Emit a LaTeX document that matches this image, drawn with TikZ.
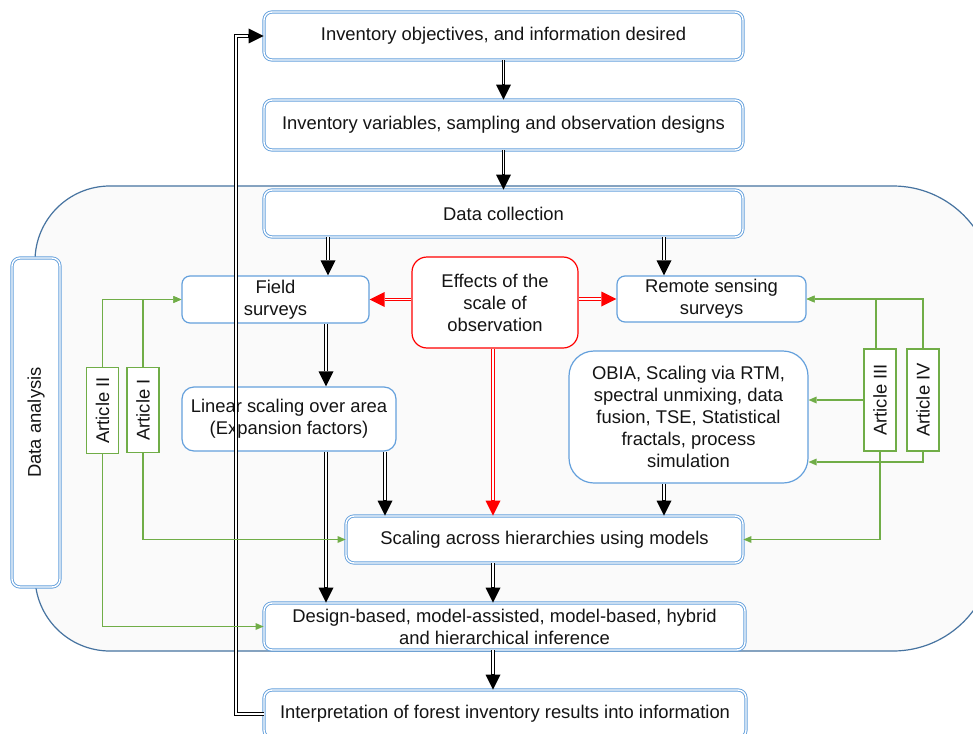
\documentclass[tikz,border=0pt]{standalone}
\usepackage{fontspec}
\setmainfont{Liberation Sans}
\usepackage{graphicx}
\usetikzlibrary{arrows.meta,calc}
\definecolor{boxblue}{RGB}{100,160,220}
\definecolor{contblue}{RGB}{70,115,160}
\definecolor{contfill}{RGB}{250,250,250}
\definecolor{artgreen}{RGB}{112,173,71}
\definecolor{txt}{RGB}{20,20,20}
\definecolor{effred}{RGB}{255,0,0}
\begin{document}
\begin{tikzpicture}[x=1pt,y=-1pt,
  font=\fontsize{18.4}{22}\selectfont, text=txt,
  dbox/.style={draw=boxblue, double=white, double distance=1.4pt, line width=0.9pt,
    rounded corners=8pt, fill=white, inner sep=0pt, align=center},
  sbox/.style={draw=boxblue, line width=1.2pt, rounded corners=#1, fill=white,
    inner sep=0pt, align=center},
  sbox/.default=8pt,
  art/.style={draw=artgreen, line width=1.3pt, fill=white, inner sep=0pt,
    minimum width=32pt},
  dbl/.style={draw=#1, line width=3.4pt,
    -{Triangle[length=15pt,width=15pt,line width=0pt]},
    postaction={draw=white, line width=1.4pt, shorten >=15.5pt, arrows=-}},
  dbl/.default=black,
  grn/.style={draw=artgreen, line width=1.3pt,
    -{Triangle[length=8pt,width=7pt,line width=0pt]}}
]
\useasboundingbox (0,0) rectangle (973,733);
\clip (0,0) rectangle (973,733);
\fill[white] (0,0) rectangle (973,733);

% container
\draw[draw=contblue, fill=contfill, line width=1.2pt]
  (35,576) -- (35,261) arc[start angle=180,end angle=270,radius=75]
  -- (893,186) arc[start angle=-90,end angle=0,radius=100]
  -- (993,551) arc[start angle=0,end angle=90,radius=100]
  -- (110,651) arc[start angle=90,end angle=180,radius=75] -- cycle;

% nodes
\node[dbox, minimum width=479pt, minimum height=48pt] (obj) at (503.5,36)
  {Inventory objectives, and information desired};
\node[dbox, minimum width=479pt, minimum height=50pt] (var) at (503.5,125)
  {Inventory variables, sampling and observation designs};
\node[dbox, minimum width=479pt, minimum height=47pt] (dc) at (503.5,213.5)
  {Data collection};
\node[sbox, minimum width=187pt, minimum height=47pt] (fs) at (275.5,299.5)
  {Field\\surveys};
\node[sbox=15pt, draw=effred, minimum width=166pt, minimum height=91pt] (eff) at (495,302.5)
  {Effects of the\\scale of\\observation};
\node[sbox, minimum width=189pt, minimum height=46pt] (rs) at (711.5,299)
  {Remote sensing\\surveys};
\node[sbox=25pt, minimum width=239pt, minimum height=132pt] (obia) at (688.5,417)
  {OBIA, Scaling via RTM,\\spectral unmixing, data\\fusion, TSE, Statistical\\fractals, process\\simulation};
\node[sbox=12pt, minimum width=214pt, minimum height=64pt] (lin) at (289,419)
  {Linear scaling over area\\(Expansion factors)};
\node[dbox, minimum width=397pt, minimum height=47pt] (sc) at (544.5,539.5)
  {Scaling across hierarchies using models};
\node[dbox, minimum width=481pt, minimum height=47pt] (des) at (504.5,626.5)
  {Design-based, model-assisted, model-based, hybrid\\and hierarchical inference};
\node[dbox, minimum width=482pt, minimum height=48pt] (int) at (505,714)
  {Interpretation of forest inventory results into information};
\node[dbox, minimum width=48pt, minimum height=329pt] (da) at (36,422.5)
  {\rotatebox{90}{Data analysis}};

\node[art, minimum height=86pt] (a2) at (102.5,410.5) {\rotatebox{90}{Article II}};
\node[art, minimum height=85pt] (a1) at (143,410) {\rotatebox{90}{Article I}};
\node[art, minimum height=102pt] (a3) at (880,400) {\rotatebox{90}{Article III}};
\node[art, minimum height=102pt] (a4) at (923,400) {\rotatebox{90}{Article IV}};

% black / red connectors
\draw[dbl] (obj.south) -- (var.north);
\draw[dbl] (var.south) -- (dc.north);
\draw[dbl] (328,0 |- dc.south) -- (328,0 |- fs.north);
\draw[dbl] (664,0 |- dc.south) -- (664,0 |- rs.north);
\draw[dbl] (326,0 |- fs.south) -- (326,0 |- lin.north);
\draw[dbl] (326,0 |- lin.south) -- (326,0 |- des.north);
\draw[dbl] (385,0 |- lin.south) -- (385,0 |- sc.north);
\draw[dbl] (664,0 |- obia.south) -- (664,0 |- sc.north);
\draw[dbl] (493,0 |- sc.south) -- (493,0 |- des.north);
\draw[dbl] (493,0 |- des.south) -- (493,0 |- int.north);
\draw[dbl] (int.west) -- (236,0 |- int.west) |- (obj.west);
\draw[dbl=effred] (493,0 |- eff.south) -- (493,0 |- sc.north);
\draw[dbl=effred] (eff.west |- fs.east) -- (fs.east);
\draw[dbl=effred] (eff.east |- rs.west) -- (rs.west);

% green connectors
\draw[grn] (a2.north) |- (fs.west);
\draw[grn] (a1.north) |- (fs.west);
\draw[grn] (a1.south) |- (sc.west);
\draw[grn] (a2.south) |- (des.west);
\draw[grn] (876,0 |- a3.north) |- (rs.east);
\draw[grn] (a4.north) |- (rs.east);
\draw[grn] (a3.west) -- (obia.east |- a3.west);
\draw[grn] (a4.south) |- ($(obia.east)+(0,45)$);
\draw[grn] (a3.south) |- (sc.east);
\end{tikzpicture}
\end{document}
